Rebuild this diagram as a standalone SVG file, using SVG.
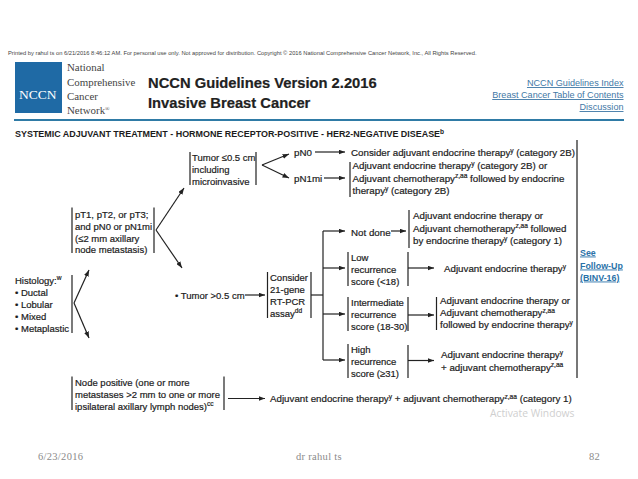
<svg xmlns="http://www.w3.org/2000/svg" width="638" height="479" viewBox="0 0 638 479">
<style>
text{font-family:"Liberation Sans",Arial,sans-serif;font-size:9.75px;fill:#1c1c1c;stroke:#1c1c1c;stroke-width:.2px}
#histology text,#pt-node text,#tumor-small text,#tumor-large text,#rt-pcr text,#low text,#intermediate text,#high text,#node-positive text{font-size:9.5px}
.s{font-size:6.6px}
.b{stroke:#222;stroke-width:1.2;fill:none}
.c{stroke:#222;stroke-width:1.2;fill:none;marker-end:url(#a)}
.serif{font-family:"Liberation Serif",serif;font-size:10.9px;fill:#444;stroke:none}
.link{fill:#3f78a6;stroke:none;text-decoration:underline;text-anchor:end;font-size:9.1px}
.foot{font-family:"Liberation Serif",serif;font-size:10.5px;fill:#8a8a8a;stroke:none;letter-spacing:.3px}
.fu{fill:#2a72a8;stroke:#2a72a8;font-weight:bold;text-decoration:underline;font-size:8.9px;stroke-width:0}
</style>
<defs>
<marker id="a" viewBox="0 0 8 6" refX="8" refY="3" markerUnits="userSpaceOnUse" markerWidth="6.5" markerHeight="5" orient="auto"><path d="M0 0L8 3L0 6z" fill="#222"/></marker>
</defs>
<rect width="638" height="479" fill="#fff"/>
<g id="header">
<text x="8" y="55" style="font-size:5.75px;fill:#444;stroke:none">Printed by rahul ts on 6/21/2016 8:46:12 AM. For personal use only. Not approved for distribution. Copyright © 2016 National Comprehensive Cancer Network, Inc., All Rights Reserved.</text>
<rect x="15" y="62" width="47" height="51" fill="#1f6aa5"/>
<text x="19" y="99" style="font-family:'Liberation Serif',serif;font-size:13.5px;fill:#fff;stroke:none">NCCN</text>
<text class="serif" x="67" y="71">National</text>
<text class="serif" x="67" y="85.500">Comprehensive</text>
<text class="serif" x="67" y="100">Cancer</text>
<text class="serif" x="67" y="114">Network<tspan font-size="6" dy="-3">®</tspan></text>
<text x="148" y="88" style="font-size:14.750px;font-weight:bold;fill:#222">NCCN Guidelines Version 2.2016</text>
<text x="148" y="108" style="font-size:14.750px;font-weight:bold;fill:#222">Invasive Breast Cancer</text>
<text class="link" x="623.500" y="86">NCCN Guidelines Index</text>
<text class="link" x="623.500" y="98">Breast Cancer Table of Contents</text>
<text class="link" x="623.500" y="110">Discussion</text>
<rect x="14" y="119" width="610" height="2" fill="#2f7ba6"/>
<text x="15" y="137" style="font-size:8.950px;font-weight:bold;stroke-width:0">SYSTEMIC ADJUVANT TREATMENT - HORMONE RECEPTOR-POSITIVE - HER2-NEGATIVE DISEASE<tspan class="s" dy="-3.500">b</tspan></text>
</g>
<g id="connectors">
<path class="c" d="M74 303L89 270"/>
<path class="c" d="M74 303L89 338"/>
<path class="c" d="M156 230L184 188"/>
<path class="c" d="M156 230L182 268"/>
<path class="c" d="M262 165L289 154"/>
<path class="c" d="M262 165L289 178"/>
<path class="c" d="M315 152L345 152"/>
<path class="c" d="M324 178L345 178"/>
<path class="c" d="M245 295L265 295"/>
<path class="b" d="M311 295H323"/>
<path class="b" d="M323 231V360"/>
<path class="c" d="M323 231H345"/>
<path class="c" d="M323 268H345"/>
<path class="c" d="M323 314H345"/>
<path class="c" d="M323 360H345"/>
<path class="c" d="M391 231H406"/>
<path class="c" d="M408 268H434"/>
<path class="c" d="M408 315H434"/>
<path class="c" d="M408 360.500H434"/>
<path class="c" d="M228 398.500H265"/>
</g>
<g id="histology"><path class="b" d="M72 275V333"/>
<text x="15" y="283.500">Histology:<tspan class="s" dy="-3.500">w</tspan></text>
<text x="15" y="295.500">• Ductal</text><text x="15" y="307.500">• Lobular</text><text x="15" y="319.500">• Mixed</text><text x="15" y="332">• Metaplastic</text></g>
<g id="pt-node"><path class="b" d="M72 207.500V253M154 207.500V253"/>
<text x="75" y="217.500">pT1, pT2, or pT3;</text><text x="75" y="229.500">and pN0 or pN1mi</text><text x="75" y="241.500">(≤2 mm axillary</text><text x="75" y="253">node metastasis)</text></g>
<g id="tumor-small"><path class="b" d="M190 152V185M256 152V185"/>
<text x="192" y="161">Tumor ≤0.5 cm</text><text x="192" y="173">including</text><text x="192" y="185">microinvasive</text></g>
<g id="tumor-large"><text x="175" y="298.500">• Tumor &gt;0.5 cm</text></g>
<g id="pn0"><text x="294" y="156">pN0</text></g>
<g id="pn1mi"><text x="294" y="182">pN1mi</text></g>
<g id="consider-1"><text x="351" y="156">Consider adjuvant endocrine therapy<tspan class="s" dy="-3.500">y</tspan><tspan dy="3.500">  (category 2B)</tspan></text></g>
<g id="pn1mi-therapy"><path class="b" d="M350 162V197"/>
<text x="352.500" y="169">Adjuvant endocrine therapy<tspan class="s" dy="-3.500">y</tspan><tspan dy="3.500"> (category 2B) or</tspan></text>
<text x="352.500" y="181.500">Adjuvant chemotherapy<tspan class="s" dy="-3.500">z,aa</tspan><tspan dy="3.500"> followed by endocrine</tspan></text>
<text x="352.500" y="194">therapy<tspan class="s" dy="-3.500">y</tspan><tspan dy="3.500"> (category 2B)</tspan></text></g>
<g id="rt-pcr"><path class="b" d="M267.500 272V318M311 272V318"/>
<text x="270" y="280.500">Consider</text><text x="270" y="292.500">21-gene</text><text x="270" y="304.500">RT-PCR</text><text x="270" y="316.500">assay<tspan class="s" dy="-3.500">dd</tspan></text></g>
<g id="not-done"><text x="351" y="236">Not done</text></g>
<g id="not-done-therapy"><path class="b" d="M409 210V248"/>
<text x="413" y="219">Adjuvant endocrine therapy or</text>
<text x="413" y="231.500">Adjuvant chemotherapy<tspan class="s" dy="-3.500">z,aa</tspan><tspan dy="3.500"> followed</tspan></text>
<text x="413" y="244">by endocrine therapy<tspan class="s" dy="-3.500">y</tspan><tspan dy="3.500"> (category 1)</tspan></text></g>
<g id="low"><path class="b" d="M348 252V286M408 252V286"/>
<text x="351" y="261">Low</text><text x="351" y="273">recurrence</text><text x="351" y="285">score (&lt;18)</text></g>
<g id="low-therapy"><text x="444" y="272">Adjuvant endocrine therapy<tspan class="s" dy="-3.500">y</tspan></text></g>
<g id="intermediate"><path class="b" d="M348 297V331M408 297V331"/>
<text x="351" y="306">Intermediate</text><text x="351" y="318">recurrence</text><text x="351" y="330">score (18-30)</text></g>
<g id="intermediate-therapy"><path class="b" d="M436.500 297V330"/>
<text x="440" y="304">Adjuvant endocrine therapy or</text>
<text x="440" y="316">Adjuvant chemotherapy<tspan class="s" dy="-3.500">z,aa</tspan></text>
<text x="440" y="328">followed by endocrine therapy<tspan class="s" dy="-3.500">y</tspan></text></g>
<g id="high"><path class="b" d="M348 344V378M408 345V378"/>
<text x="351" y="353">High</text><text x="351" y="365">recurrence</text><text x="351" y="377">score (≥31)</text></g>
<g id="high-therapy"><text x="441" y="358">Adjuvant endocrine therapy<tspan class="s" dy="-3.500">y</tspan></text>
<text x="441" y="370.500">+ adjuvant chemotherapy<tspan class="s" dy="-3.500">z,aa</tspan></text></g>
<g id="node-positive"><path class="b" d="M72 376.500V410M224 376.500V410"/>
<text x="75" y="385.500">Node positive (one or more</text>
<text x="75" y="397.500">metastases &gt;2 mm to one or more</text>
<text x="75" y="409.500">ipsilateral axillary lymph nodes)<tspan class="s" dy="-3.500">cc</tspan></text></g>
<g id="node-positive-therapy"><text x="270" y="402">Adjuvant endocrine therapy<tspan class="s" dy="-3.500">y</tspan><tspan dy="3.500"> + adjuvant chemotherapy</tspan><tspan class="s" dy="-3.500">z,aa</tspan><tspan dy="3.500"> (category 1)</tspan></text></g>
<g id="follow-up"><path d="M577 140V378" stroke="#777" stroke-width="2" fill="none"/>
<text class="fu" x="580" y="255.500">See</text><text class="fu" x="580" y="268.500">Follow-Up</text><text class="fu" x="580" y="280.500">(BINV-16)</text></g>
<g id="footer">
<text x="490" y="416.500" style="font-family:'Open Sans',sans-serif;font-size:10.300px;fill:#cfcfcf;stroke:none">Activate Windows</text>
<text class="foot" x="38" y="460">6/23/2016</text>
<text class="foot" x="296" y="460">dr rahul ts</text>
<text class="foot" x="589" y="460">82</text>
</g>
</svg>
